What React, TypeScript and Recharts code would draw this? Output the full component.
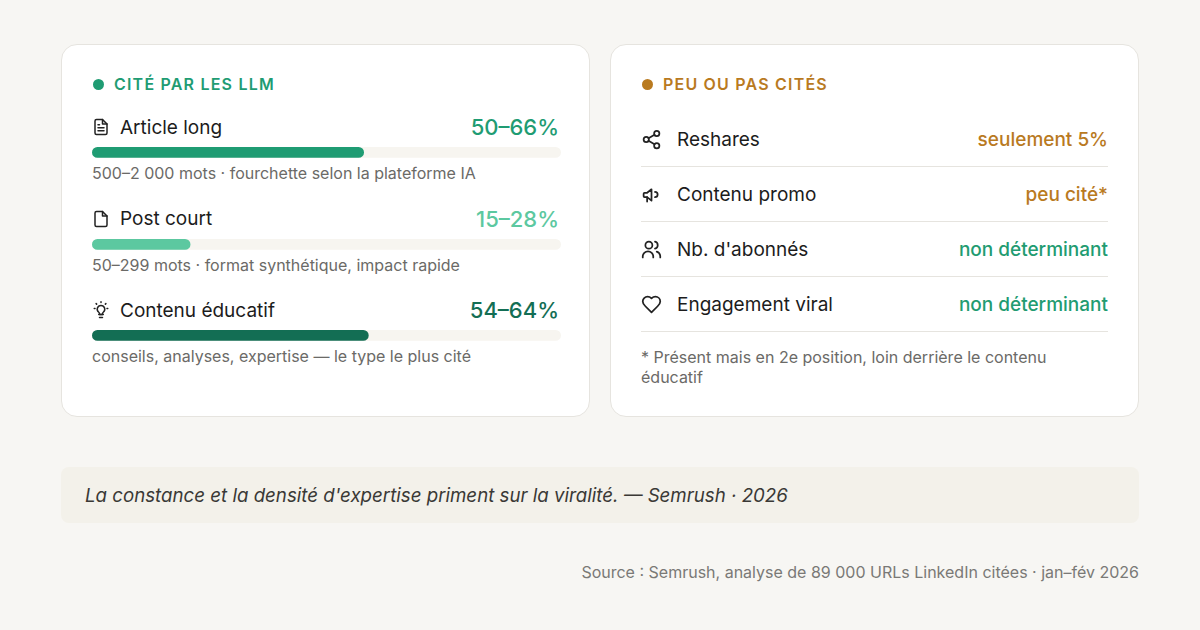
import { BarChart, Bar, XAxis, YAxis } from "recharts";

// left card: content types cited by LLMs
const citedLabels = ["Article long", "Post court", "Contenu éducatif"];
const citedRanges = ["50–66%", "15–28%", "54–64%"];
const citedBarValues = [58, 21, 59];
const citedNotes = [
  "500–2 000 mots · fourchette selon la plateforme IA",
  "50–299 mots · format synthétique, impact rapide",
  "conseils, analyses, expertise — le type le plus cité",
];
const citedColors = ["#1f9c73", "#5cc8a0", "#136e54"];
const citedIcons = ["fileText", "file", "bulb"];

// right card: signals that are barely cited
const weakLabels = ["Reshares", "Contenu promo", "Nb. d'abonnés", "Engagement viral"];
const weakValues = ["seulement 5%", "peu cité*", "non déterminant", "non déterminant"];
const weakColors = ["#b97a1f", "#b97a1f", "#229b71", "#229b71"];
const weakIcons = ["share", "megaphone", "users", "heart"];

const FONT = "Inter, 'Noto Sans', sans-serif";
const TRACK = "#f7f5f0";

function Icon({ name, size = 18 }: { name: string; size?: number }) {
  const p = {
    width: size,
    height: size,
    viewBox: "0 0 24 24",
    fill: "none",
    stroke: "#222",
    strokeWidth: 2,
    strokeLinecap: "round" as const,
    strokeLinejoin: "round" as const,
  };
  if (name === "fileText")
    return (
      <svg {...p}>
        <path d="M14 2H6a2 2 0 0 0-2 2v16a2 2 0 0 0 2 2h12a2 2 0 0 0 2-2V8z" />
        <path d="M14 2v6h6" />
        <path d="M8 13h8M8 17h8M8 9h2" />
      </svg>
    );
  if (name === "file")
    return (
      <svg {...p}>
        <path d="M14 2H6a2 2 0 0 0-2 2v16a2 2 0 0 0 2 2h12a2 2 0 0 0 2-2V8z" />
        <path d="M14 2v6h6" />
      </svg>
    );
  if (name === "bulb")
    return (
      <svg {...p}>
        <path d="M9 18h6M10 22h4" />
        <path d="M12 6a5 5 0 0 0-3 9c.6.5 1 1.2 1 2v1h4v-1c0-.8.4-1.5 1-2a5 5 0 0 0-3-9z" />
        <path d="M12 1v1M3 10h1M20 10h1M5.5 3.5l.7.7M18.5 3.5l-.7.7" />
      </svg>
    );
  if (name === "share")
    return (
      <svg {...p}>
        <circle cx="18" cy="5" r="3" />
        <circle cx="6" cy="12" r="3" />
        <circle cx="18" cy="19" r="3" />
        <path d="M8.6 13.5l6.8 4M15.4 6.5l-6.8 4" />
      </svg>
    );
  if (name === "megaphone")
    return (
      <svg {...p}>
        <path d="M3 11v3a1 1 0 0 0 1 1h3l5 4V6L7 10H4a1 1 0 0 0-1 1z" />
        <path d="M16 9a3 3 0 0 1 0 6" />
        <path d="M7 15v5" />
      </svg>
    );
  if (name === "users")
    return (
      <svg {...p}>
        <circle cx="9" cy="7" r="4" />
        <path d="M2 21v-1a6 6 0 0 1 12 0v1" />
        <path d="M16 3.1a4 4 0 0 1 0 7.8M22 21v-1a6 6 0 0 0-4-5.6" />
      </svg>
    );
  return (
    <svg {...p}>
      <path d="M19 14c1.5-1.5 3-3.2 3-5.5A5.5 5.5 0 0 0 16.5 3c-1.8 0-3 .5-4.5 2-1.5-1.5-2.7-2-4.5-2A5.5 5.5 0 0 0 2 8.5c0 2.3 1.5 4 3 5.5l7 7z" />
    </svg>
  );
}

function RangeBar({ value, color }: { value: number; color: string }) {
  return (
    <BarChart
      width={469}
      height={12}
      data={[{ name: "v", value }]}
      layout="vertical"
      margin={{ top: 0, right: 0, bottom: 0, left: 0 }}
    >
      <XAxis type="number" domain={[0, 100]} hide />
      <YAxis type="category" dataKey="name" hide />
      <Bar
        dataKey="value"
        fill={color}
        barSize={12}
        radius={6}
        background={{ fill: TRACK, radius: 6 }}
        isAnimationActive={false}
      />
    </BarChart>
  );
}

function Header({ text, color }: { text: string; color: string }) {
  return (
    <div style={{ display: "flex", alignItems: "center", height: 20 }}>
      <span
        style={{
          width: 11,
          height: 11,
          borderRadius: "50%",
          background: color,
          marginRight: 10,
          marginLeft: 1,
        }}
      />
      <span
        style={{
          color,
          fontSize: 16,
          fontWeight: 600,
          letterSpacing: 1.2,
        }}
      >
        {text}
      </span>
    </div>
  );
}

const cardStyle: React.CSSProperties = {
  position: "absolute",
  top: 44,
  width: 529,
  height: 373,
  boxSizing: "border-box",
  background: "#ffffff",
  border: "1px solid #e6e4df",
  borderRadius: 16,
  padding: "29px 30px 0 30px",
};

export default function App() {
  return (
    <div
      style={{
        position: "fixed",
        left: 0,
        top: 0,
        width: 1200,
        height: 630,
        background: "#f7f6f3",
        fontFamily: FONT,
        color: "#1c1c1c",
      }}
    >
      {/* left card */}
      <div style={{ ...cardStyle, left: 61 }}>
        <Header text="CITÉ PAR LES LLM" color="#1f9c73" />
        <div style={{ marginTop: 19 }}>
          {citedLabels.map((label, i) => (
            <div key={label} style={{ height: 91.5 }}>
              <div
                style={{
                  display: "flex",
                  alignItems: "center",
                  justifyContent: "space-between",
                  height: 28,
                }}
              >
                <div style={{ display: "flex", alignItems: "center" }}>
                  <Icon name={citedIcons[i]} size={18} />
                  <span style={{ fontSize: 19, marginLeft: 10 }}>{label}</span>
                </div>
                <span style={{ fontSize: 22, fontWeight: 500, color: citedColors[i] }}>
                  {citedRanges[i]}
                </span>
              </div>
              <div style={{ marginTop: 5 }}>
                <RangeBar value={citedBarValues[i]} color={citedColors[i]} />
              </div>
              <div style={{ fontSize: 16, color: "#6b6a67", marginTop: 5 }}>
                {citedNotes[i]}
              </div>
            </div>
          ))}
        </div>
      </div>

      {/* right card */}
      <div style={{ ...cardStyle, left: 610 }}>
        <Header text="PEU OU PAS CITÉS" color="#b97a1f" />
        <div style={{ marginTop: 18 }}>
          {weakLabels.map((label, i) => (
            <div
              key={label}
              style={{
                height: 54,
                borderBottom: "1px solid #e6e4df",
                display: "flex",
                alignItems: "center",
                justifyContent: "space-between",
              }}
            >
              <div style={{ display: "flex", alignItems: "center" }}>
                <Icon name={weakIcons[i]} size={21} />
                <span style={{ fontSize: 19, marginLeft: 15 }}>{label}</span>
              </div>
              <span style={{ fontSize: 19, fontWeight: 500, color: weakColors[i] }}>
                {weakValues[i]}
              </span>
            </div>
          ))}
        </div>
        <div
          style={{
            fontSize: 16,
            color: "#6b6a67",
            marginTop: 15,
            lineHeight: "20px",
            width: 440,
          }}
        >
          * Présent mais en 2e position, loin derrière le contenu éducatif
        </div>
      </div>

      {/* quote */}
      <div
        style={{
          position: "absolute",
          left: 61,
          top: 467,
          width: 1078,
          height: 56,
          background: "#f3f1ea",
          borderRadius: 8,
          display: "flex",
          alignItems: "center",
          paddingLeft: 24,
          boxSizing: "border-box",
          fontStyle: "italic",
          fontSize: 18.7,
          color: "#3a3936",
        }}
      >
        La constance et la densité d'expertise priment sur la viralité. — Semrush · 2026
      </div>

      {/* source */}
      <div
        style={{
          position: "absolute",
          right: 61,
          top: 562,
          fontSize: 16,
          color: "#7a7976",
        }}
      >
        Source : Semrush, analyse de 89 000 URLs LinkedIn citées · jan–fév 2026
      </div>
    </div>
  );
}
